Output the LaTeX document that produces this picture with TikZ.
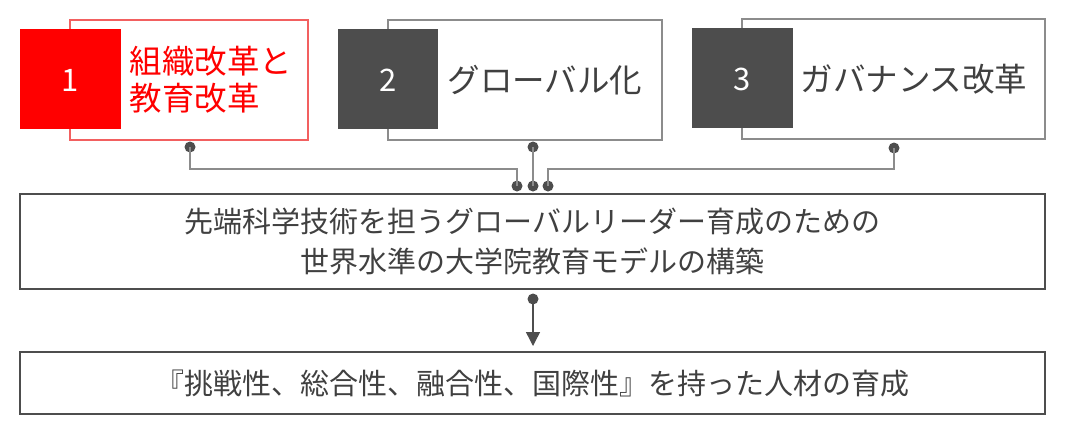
\documentclass[tikz,border=0pt]{standalone}
\usepackage{fontspec}
\setmainfont{Noto Sans CJK JP}
\usetikzlibrary{arrows.meta}
\definecolor{dg}{HTML}{4D4D4D}
\definecolor{tg}{HTML}{404040}
\definecolor{lg}{HTML}{8C8C8C}
\definecolor{rd}{HTML}{FF0000}
\definecolor{lrd}{HTML}{F26060}
\begin{document}
\begin{tikzpicture}[x=1pt,y=-1pt,
  outer/.style={draw=lg,line width=1.3pt,fill=white},
  dotc/.style={circle,fill=dg,inner sep=0pt,minimum size=11pt},
  con/.style={draw=lg,line width=1.4pt},
  big/.style={font=\fontsize{29}{40}\selectfont,text=tg,align=center},
  ttl/.style={font=\fontsize{32.5}{37}\selectfont,anchor=west,align=left},
  num/.style={font=\fontsize{31}{34}\selectfont,text=white}]
\useasboundingbox (0,0) rectangle (1065,437);
% box 1
\draw[draw=lrd,line width=1.3pt,fill=white] (70,20) rectangle (308,140);
\fill[rd] (20,29) rectangle (121,129);
\node[num] (n1) at (70.5,80) {1};
\node[ttl,text=rd] (t1) at (126,80) {組織改革と\\教育改革};
% box 2
\draw[outer] (388,20) rectangle (662,140);
\fill[dg] (338,29) rectangle (438,129);
\node[num] (n2) at (388,80) {2};
\node[ttl,text=tg] (t2) at (444,80) {グローバル化};
% box 3
\draw[outer] (742,19) rectangle (1045,139);
\fill[dg] (692,28) rectangle (793,128);
\node[num] (n3) at (742.5,79) {3};
\node[ttl,text=tg] (t3) at (797,79) {ガバナンス改革};
% main box
\node[draw=dg,line width=1.3pt,minimum width=1025pt,minimum height=95pt,inner sep=0pt,big] (m) at (532.5,241.5) {先端科学技術を担うグローバルリーダー育成のための\\世界水準の大学院教育モデルの構築};
\node[draw=dg,line width=1.3pt,minimum width=1025pt,minimum height=62pt,inner sep=0pt,big] (b) at (532.5,383) {『挑戦性、総合性、融合性、国際性』を持った人材の育成};
% dots
\node[dotc] (d1) at (190,147) {};
\node[dotc] (d2) at (533,147) {};
\node[dotc] (d3) at (894,148) {};
\node[dotc] (e1) at (517,186) {};
\node[dotc] (e2) at (533,186) {};
\node[dotc] (e3) at (548,186) {};
\draw[con] (d1.center) -- (190,169) -- (517,169) -- (e1.center);
\draw[con] (d2.center) -- (e2.center);
\draw[con] (d3.center) -- (894,169) -- (548,169) -- (e3.center);
\node[dotc] (f) at (533,299) {};
\draw[draw=dg,line width=1.4pt,-{Triangle[length=14pt,width=14pt]}] (f.center) -- (533,346);
\end{tikzpicture}
\end{document}
